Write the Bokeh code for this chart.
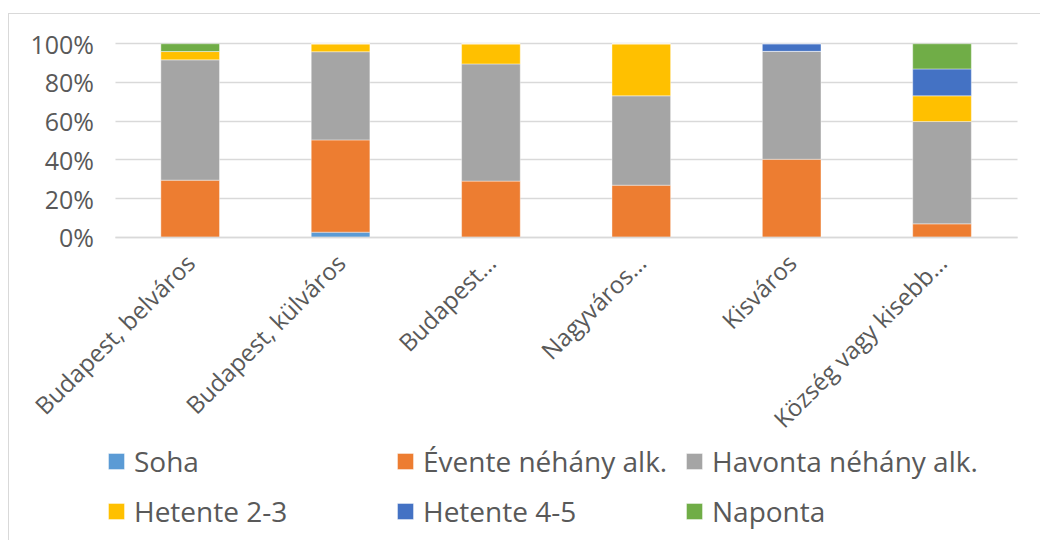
from bokeh.plotting import figure
from bokeh.models import (Range1d, FixedTicker, PrintfTickFormatter, Legend,
                          LegendItem, LinearAxis)
from bokeh.embed import file_html
from bokeh.resources import INLINE
from math import pi

categories = ["Budapest, belváros", "Budapest, külváros", "Budapest…",
              "Nagyváros…", "Kisváros", "Község vagy kisebb…"]
series_names = ["Soha", "Évente néhány alk.", "Havonta néhány alk.",
                "Hetente 2-3", "Hetente 4-5", "Naponta"]
soha = [0.0, 2.6, 0.0, 0.0, 0.0, 0.0]
evente = [29.5, 47.7, 29.0, 26.9, 40.3, 6.9]
havonta = [62.2, 45.6, 60.6, 46.2, 55.8, 52.9]
hetente23 = [4.3, 4.1, 10.4, 26.9, 0.0, 13.3]
hetente45 = [0.0, 0.0, 0.0, 0.0, 3.9, 13.9]
naponta = [4.0, 0.0, 0.0, 0.0, 0.0, 13.0]
y_ticks = [0, 20, 40, 60, 80, 100]

colors = ["#5B9BD5", "#ED7D31", "#A5A5A5", "#FFC000", "#4472C4", "#70AD47"]
keys = ["soha", "evente", "havonta", "h23", "h45", "naponta"]

n = len(categories)
x_pos = [i + 0.5 for i in range(n)]          # category centres on a numeric scale
data = dict(x=x_pos, soha=soha, evente=evente, havonta=havonta,
            h23=hetente23, h45=hetente45, naponta=naponta)

TEXT = "#595959"
GRID = "#D9D9D9"

# frame covers the whole canvas; 0..n categories and 0..100 % occupy the
# plotting region, the rest holds tick labels and the legend
W, H = 1031, 526
PX_X = 150.37      # px per category
PX_Y = 1.934       # px per percent
LEFT, TOP = 105.5, 29.3
x0 = -LEFT / PX_X
x1 = x0 + W / PX_X
y1 = 100 + TOP / PX_Y
y0 = y1 - H / PX_Y

p = figure(x_range=Range1d(x0, x1), y_range=Range1d(y0, y1),
           frame_width=W, frame_height=H,
           min_border_left=0, min_border_right=0,
           min_border_top=0, min_border_bottom=0,
           x_axis_location=None, y_axis_location=None,
           output_backend="svg", toolbar_location=None)
p.styles = {"margin-left": "8px", "margin-top": "13px",
            "border-top": "1px solid #D9D9D9",
            "border-left": "1px solid #D9D9D9"}
p.outline_line_color = None
p.background_fill_color = "white"
p.border_fill_color = "white"

p.xgrid.visible = False
p.ygrid.ticker = FixedTicker(ticks=y_ticks)
p.ygrid.grid_line_color = GRID
p.ygrid.grid_line_width = 1.5
p.ygrid.cross_bounds = (0, n)

renderers = p.vbar_stack(keys, x="x", width=0.39, color=colors, source=data,
                         line_color="white", line_width=0.8, line_alpha=0.5)

xaxis = LinearAxis(fixed_location=0, bounds=(0, n))
xaxis.ticker = FixedTicker(ticks=x_pos)
xaxis.major_label_overrides = {xp: c for xp, c in zip(x_pos, categories)}
xaxis.axis_line_color = GRID
xaxis.axis_line_width = 1.5
xaxis.major_tick_line_color = None
xaxis.minor_tick_line_color = None
xaxis.major_label_orientation = pi / 4
xaxis.major_label_standoff = 15
xaxis.major_label_text_font = "Open Sans"
xaxis.major_label_text_font_size = "24px"
xaxis.major_label_text_color = TEXT
p.add_layout(xaxis, "below")

yaxis = LinearAxis(fixed_location=0, bounds=(0, 100))
yaxis.ticker = FixedTicker(ticks=y_ticks)
yaxis.formatter = PrintfTickFormatter(format="%d%%")
yaxis.axis_line_color = None
yaxis.major_tick_line_color = None
yaxis.minor_tick_line_color = None
yaxis.major_label_standoff = 15
yaxis.major_label_text_font = "Open Sans"
yaxis.major_label_text_font_size = "25px"
yaxis.major_label_text_color = TEXT
p.add_layout(yaxis, "left")

items = [LegendItem(label=s, renderers=[r]) for s, r in zip(series_names, renderers)]
legend = Legend(items=items, orientation="horizontal", ncols=3,
                location=(97, 5), padding=0, margin=0, spacing=2,
                glyph_width=20, glyph_height=20, label_standoff=8,
                label_height=48, label_width=259,
                label_text_font="Open Sans", label_text_font_size="28px",
                label_text_color=TEXT, border_line_color=None,
                background_fill_alpha=0)
p.add_layout(legend, "center")

open("out.html", "w").write(file_html(p, INLINE))
